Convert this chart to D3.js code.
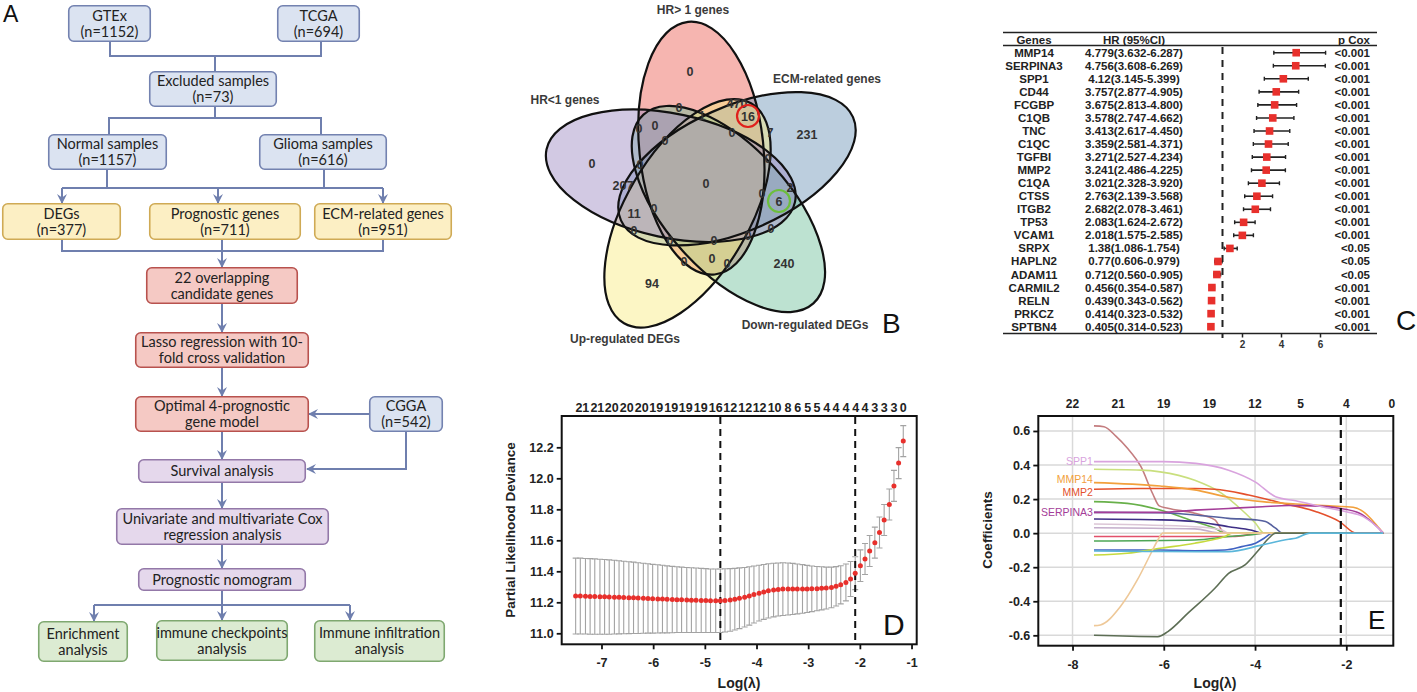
<!DOCTYPE html>
<html>
<head>
<meta charset="utf-8">
<script src="https://cdn.jsdelivr.net/npm/d3@7"></script>
<style>
  body { margin: 0; background: #fff; }
  svg { display: block; }
</style>
</head>
<body>
<svg id="fig" width="1417" height="692"></svg>
<script>
// ---------- A: flow chart ----------
const flowIds = ['gtex', 'tcga', 'excl', 'normal', 'glioma', 'degs', 'prog', 'ecm', 'cand',
  'lasso', 'optimal', 'cgga', 'surv', 'cox', 'nomo', 'enrich', 'immck', 'immin'];
const flowLabels = [
  ['GTEx', '(n=1152)'], ['TCGA', '(n=694)'], ['Excluded samples', '(n=73)'],
  ['Normal samples', '(n=1157)'], ['Glioma samples', '(n=616)'],
  ['DEGs', '(n=377)'], ['Prognostic genes', '(n=711)'], ['ECM-related genes', '(n=951)'],
  ['22 overlapping', 'candidate genes'], ['Lasso regression with 10-', 'fold cross validation'],
  ['Optimal 4-prognostic', 'gene model'], ['CGGA', '(n=542)'], ['Survival analysis'],
  ['Univariate and multivariate Cox', 'regression analysis'], ['Prognostic nomogram'],
  ['Enrichment', 'analysis'], ['immune checkpoints', 'analysis'], ['Immune infiltration', 'analysis']
];
const flowStage = ['data', 'data', 'data', 'data', 'data', 'set', 'set', 'set', 'model',
  'model', 'model', 'data', 'valid', 'valid', 'valid', 'down', 'down', 'down'];

// ---------- B: venn ----------
const vennSets = ['HR> 1 genes', 'ECM-related genes', 'Down-regulated DEGs', 'Up-regulated DEGs', 'HR<1 genes'];
const vennCounts = [0, 470, 16, 0, 1, 231, 7, 0, 0, 0, 0, 0, 0, 0, 207, 0, 2, 0, 6, 11, 0, 0, 0, 0, 0, 0, 0, 0, 0, 240, 94];
const vennSpots = [[-15, -112], [32, -80], [43, -67], [-26, -76], [-3, -68], [102, -49], [65, -51], [27, -51],
  [-66, -55], [-50, -58], [-40, -43], [-113, -20], [-65, -19], [63, -25], [-82, 2], [1, 0], [85, 4], [57, 10],
  [74, 18], [-71, 30], [-51, 25], [66, 45], [-71, 47], [-35, 57], [9, 57], [43, 52], [-21, 78], [7, 75],
  [22, 80], [79, 80], [-53, 100]];
const vennLabelSpots = [[-12, -173], [122, -104], [100, 142], [-80, 156], [-140, -83]];
const vennHighlight = [2, 18];

// ---------- C: forest ----------
const genes = ['MMP14', 'SERPINA3', 'SPP1', 'CD44', 'FCGBP', 'C1QB', 'TNC', 'C1QC', 'TGFBI', 'MMP2', 'C1QA',
  'CTSS', 'ITGB2', 'TP53', 'VCAM1', 'SRPX', 'HAPLN2', 'ADAM11', 'CARMIL2', 'RELN', 'PRKCZ', 'SPTBN4'];
const hr = [4.779, 4.756, 4.12, 3.757, 3.675, 3.578, 3.413, 3.359, 3.271, 3.241, 3.021, 2.763, 2.682, 2.083,
  2.018, 1.38, 0.77, 0.712, 0.456, 0.439, 0.414, 0.405];
const hrLow = [3.632, 3.608, 3.145, 2.877, 2.813, 2.747, 2.617, 2.581, 2.527, 2.486, 2.328, 2.139, 2.078, 1.624,
  1.575, 1.086, 0.606, 0.560, 0.354, 0.343, 0.323, 0.314];
const hrHigh = [6.287, 6.269, 5.399, 4.905, 4.800, 4.662, 4.450, 4.371, 4.234, 4.225, 3.920, 3.568, 3.461, 2.672,
  2.585, 1.754, 0.979, 0.905, 0.587, 0.562, 0.532, 0.523];
const pCox = ['<0.001', '<0.001', '<0.001', '<0.001', '<0.001', '<0.001', '<0.001', '<0.001', '<0.001', '<0.001',
  '<0.001', '<0.001', '<0.001', '<0.001', '<0.001', '<0.05', '<0.05', '<0.05', '<0.001', '<0.001', '<0.001', '<0.001'];
const forestTicks = [2, 4, 6];

// ---------- D: cross validation ----------
const logLambda = [-7.50, -7.41, -7.31, -7.22, -7.13, -7.03, -6.94, -6.85, -6.75, -6.66,
  -6.57, -6.47, -6.38, -6.29, -6.19, -6.10, -6.01, -5.91, -5.82, -5.73,
  -5.63, -5.54, -5.45, -5.35, -5.26, -5.17, -5.07, -4.98, -4.89, -4.79,
  -4.70, -4.61, -4.51, -4.42, -4.33, -4.23, -4.14, -4.05, -3.95, -3.86,
  -3.77, -3.67, -3.58, -3.49, -3.39, -3.30, -3.21, -3.11, -3.02, -2.93,
  -2.83, -2.74, -2.65, -2.55, -2.46, -2.37, -2.27, -2.18, -2.09, -1.99,
  -1.90, -1.81, -1.71, -1.62, -1.53, -1.43, -1.34, -1.25, -1.16];
const cvMean = [11.240, 11.240, 11.239, 11.238, 11.237, 11.236, 11.235, 11.234, 11.233, 11.232,
  11.231, 11.230, 11.229, 11.227, 11.226, 11.225, 11.223, 11.222, 11.221, 11.219,
  11.218, 11.217, 11.216, 11.215, 11.214, 11.213, 11.212, 11.211, 11.210, 11.210,
  11.210, 11.212, 11.215, 11.220, 11.226, 11.233, 11.241, 11.250, 11.259, 11.267,
  11.274, 11.279, 11.283, 11.285, 11.286, 11.286, 11.286, 11.286, 11.286, 11.287,
  11.288, 11.290, 11.292, 11.296, 11.303, 11.313, 11.328, 11.350, 11.388, 11.436,
  11.479, 11.531, 11.585, 11.650, 11.731, 11.831, 11.951, 12.098, 12.240];
const cvSd = [.245, .245, .244, .244, .243, .242, .241, .240, .238, .236,
  .234, .232, .230, .228, .226, .224, .222, .220, .218, .216,
  .214, .212, .211, .210, .209, .208, .207, .206, .205, .205,
  .205, .204, .202, .199, .196, .192, .188, .184, .180, .177,
  .175, .173, .171, .170, .168, .165, .161, .157, .152, .147,
  .143, .139, .135, .131, .127, .123, .119, .113, .106, .102,
  .100, .100, .100, .100, .100, .100, .100, .100, .100];
const cvTopAt = [-7.37, -7.08, -6.80, -6.51, -6.22, -5.94, -5.65, -5.37, -5.08, -4.79, -4.51, -4.22, -3.94, -3.65,
  -3.39, -3.20, -3.01, -2.83, -2.64, -2.46, -2.27, -2.08, -1.90, -1.71, -1.53, -1.34, -1.16];
const cvTopLabels = [21, 21, 20, 20, 20, 19, 19, 19, 19, 16, 12, 12, 12, 10,
  8, 6, 5, 5, 4, 4, 4, 4, 4, 3, 3, 3, 0];
const cvLambdaMin = -4.70;
const cvLambda1se = -2.09;

// ---------- E: coefficient paths ----------
const pathNames = ['c1', 'c3', 'c7', 'c8', 'c9', 'c10', 'c11', 'c12', 'c14', 'c15', 'c17', 'c18', 'c19',
  'MMP2', 'MMP14', 'SERPINA3', 'SPP1', 'c16'];
const pathLabelled = ['SPP1', 'MMP14', 'MMP2', 'SERPINA3'];
const pathValues = [
  [[-7.53, 0.63], [-7.31, 0.625], [-7.05, 0.57], [-6.80, 0.50], [-6.50, 0.39], [-6.24, 0.23], [-6.10, 0.16], [-5.91, 0.146], [-5.32, 0.117], [-4.88, 0.078], [-4.66, 0], [-1.19, 0]],
  [[-7.53, 0.375], [-6.50, 0.37], [-6.08, 0.36], [-5.32, 0.31], [-4.73, 0.234], [-4.29, 0.136], [-3.99, 0.058], [-3.80, 0], [-1.19, 0]],
  [[-7.53, 0.185], [-6.80, 0.175], [-6.08, 0.136], [-5.32, 0.068], [-4.88, 0.029], [-4.66, 0], [-1.19, 0]],
  [[-7.53, 0.083], [-6.08, 0.078], [-5.32, 0.068], [-4.58, 0.038], [-4.07, 0.017], [-3.84, 0], [-1.19, 0]],
  [[-7.53, 0.122], [-6.08, 0.12], [-5.32, 0.107], [-4.58, 0.087], [-3.99, 0.078], [-3.77, 0.068], [-3.55, 0.029], [-3.40, 0], [-1.19, 0]],
  [[-7.53, 0.054], [-5.32, 0.038], [-4.73, 0.019], [-4.58, 0], [-1.19, 0]],
  [[-7.53, 0.032], [-5.32, 0.025], [-4.73, 0], [-1.19, 0]],
  [[-7.53, -0.02], [-4.50, -0.02], [-3.84, 0], [-1.19, 0]],
  [[-7.53, -0.046], [-5.32, -0.04], [-4.58, -0.02], [-3.99, -0.006], [-3.84, 0], [-1.19, 0]],
  [[-7.53, -0.099], [-6.08, -0.099], [-5.32, -0.103], [-4.66, -0.099], [-4.29, -0.079], [-3.99, -0.059], [-3.80, -0.03], [-3.62, 0], [-1.19, 0]],
  [[-7.53, -0.128], [-6.80, -0.118], [-6.08, -0.089], [-5.32, -0.059], [-4.88, -0.036], [-4.66, -0.02], [-4.51, 0], [-1.19, 0]],
  [[-7.53, -0.543], [-7.39, -0.539], [-6.95, -0.431], [-6.58, -0.275], [-6.28, -0.118], [-6.13, -0.04], [-6.02, 0], [-1.19, 0]],
  [[-7.53, -0.60], [-6.13, -0.608], [-5.91, -0.578], [-5.47, -0.47], [-4.88, -0.324], [-4.58, -0.236], [-4.22, -0.187], [-3.92, -0.099], [-3.70, -0.03], [-3.55, 0], [-1.19, 0]],
  [[-7.53, 0.258], [-6.50, 0.262], [-5.32, 0.262], [-4.88, 0.258], [-4.14, 0.224], [-3.40, 0.176], [-2.66, 0.126], [-2.15, 0.068], [-1.78, 0], [-1.19, 0]],
  [[-7.53, 0.297], [-6.08, 0.277], [-5.32, 0.254], [-4.58, 0.211], [-3.84, 0.185], [-3.11, 0.171], [-2.37, 0.16], [-1.85, 0.152], [-1.63, 0.126], [-1.33, 0.045], [-1.19, 0]],
  [[-7.53, 0.122], [-6.08, 0.122], [-5.32, 0.135], [-4.58, 0.145], [-3.84, 0.155], [-3.26, 0.162], [-2.74, 0.16], [-2.15, 0.146], [-1.71, 0.117], [-1.41, 0.058], [-1.19, 0]],
  [[-7.53, 0.42], [-6.50, 0.42], [-6.00, 0.42], [-5.30, 0.41], [-4.58, 0.37], [-3.99, 0.30], [-3.55, 0.214], [-3.11, 0.19], [-2.37, 0.146], [-2.00, 0.126], [-1.63, 0.097], [-1.33, 0.038], [-1.19, 0]],
  [[-7.53, -0.105], [-6.08, -0.108], [-4.58, -0.109], [-3.84, -0.069], [-3.26, -0.036], [-3.11, -0.03], [-2.80, 0], [-1.19, 0]]
];
const pathTopAt = [-8, -7, -6, -5, -4, -3, -2, -1];
const pathTopLabels = [22, 21, 19, 19, 12, 5, 4, 0];
const pathCut = -2.12;

// ---------- styles ----------
const sans = 'Arial, "Liberation Sans", sans-serif';
const flowFont = 'Lato, "Open Sans", sans-serif';
const lineCol = '#6f7fae';
const stageStyle = {
  data: { fill: '#dbe3f1', stroke: '#7382b0' },
  set: { fill: '#fcefc4', stroke: '#cfaa55' },
  model: { fill: '#f5c9c4', stroke: '#b8524e' },
  valid: { fill: '#e5d8ec', stroke: '#9378a8' },
  down: { fill: '#dcebd2', stroke: '#7fa870' }
};
const vennFill = ['#eb5a50', '#6a93b6', '#6cbf9a', '#f8ea7e', '#9b88c2'];
const pathColor = {
  c1: '#c47d7f', c3: '#c9df7e', c7: '#68b04a', c8: '#3e2f86', c9: '#55609e', c10: '#dcc6d6', c11: '#c4aecb',
  c12: '#e2506a', c14: '#4ea656', c15: '#4062c2', c17: '#c6da3e', c18: '#eec898', c19: '#5d6e55',
  MMP2: '#e4502c', MMP14: '#f2a03c', SERPINA3: '#a43d98', SPP1: '#d9a3de', c16: '#5ab6da'
};
// small vertical nudges so the stacked gene labels in E stay readable
const labelNudge = { SPP1: 0, MMP14: -3, MMP2: 3, SERPINA3: 0 };

const svg = d3.select('#fig');
const defs = svg.append('defs');
defs.append('marker').attr('id', 'arr')
  .attr('viewBox', '0 0 10 10').attr('refX', 9).attr('refY', 5)
  .attr('markerWidth', 10).attr('markerHeight', 10)
  .attr('markerUnits', 'userSpaceOnUse').attr('orient', 'auto')
  .append('path').attr('d', 'M0,0 L10,5 L0,10 L3.5,5 Z').attr('fill', lineCol);

const letter = (t, x, y, size) => svg.append('text').text(t).attr('x', x).attr('y', y)
  .attr('font-family', sans).attr('font-size', size).attr('fill', '#111');

// ======================= A =======================
const flowBox = {
  gtex: [68, 5, 151, 42], tcga: [277, 5, 360, 42], excl: [149, 71, 277, 107],
  normal: [48, 134, 167, 170], glioma: [259, 134, 387, 170],
  degs: [2, 203, 121, 240], prog: [149, 203, 301, 240], ecm: [314, 203, 452, 240],
  cand: [146, 267, 298, 304], lasso: [135, 332, 309, 368], optimal: [135, 396, 309, 432],
  cgga: [369, 396, 443, 432], surv: [138, 459, 306, 483], cox: [116, 508, 329, 545],
  nomo: [138, 568, 306, 591], enrich: [38, 621, 128, 662], immck: [156, 620, 288, 661],
  immin: [314, 620, 445, 662]
};
const flowLinks = [
  { p: [[110, 42], [110, 56], [321, 56], [321, 42]] }, { p: [[215, 56], [215, 71]] },
  { p: [[215, 107], [215, 118]] }, { p: [[109, 134], [109, 118], [321, 118], [321, 134]] },
  { p: [[107, 170], [107, 188]] }, { p: [[324, 170], [324, 188]] }, { p: [[62, 188], [383, 188]] },
  { p: [[62, 188], [62, 203]], a: 1 }, { p: [[218, 188], [218, 203]], a: 1 }, { p: [[383, 188], [383, 203]], a: 1 },
  { p: [[62, 240], [62, 251], [383, 251], [383, 240]] }, { p: [[222, 240], [222, 267]], a: 1 },
  { p: [[222, 304], [222, 332]], a: 1 }, { p: [[222, 368], [222, 396]], a: 1 },
  { p: [[369, 414], [309, 414]], a: 1 }, { p: [[406, 432], [406, 469], [307, 469]], a: 1 },
  { p: [[222, 432], [222, 459]], a: 1 }, { p: [[222, 483], [222, 508]], a: 1 },
  { p: [[222, 545], [222, 568]], a: 1 }, { p: [[222, 591], [222, 620]], a: 1 },
  { p: [[94, 605], [350, 605]] }, { p: [[94, 605], [94, 621]], a: 1 }, { p: [[350, 605], [350, 620]], a: 1 }
];
const gA = svg.append('g');
gA.selectAll('path.link').data(flowLinks).join('path').attr('class', 'link')
  .attr('d', (d) => d3.line()(d.p))
  .attr('fill', 'none').attr('stroke', lineCol).attr('stroke-width', 2)
  .attr('marker-end', (d) => (d.a ? 'url(#arr)' : null));

const nodes = gA.selectAll('g.node').data(flowIds).join('g').attr('class', 'node');
nodes.append('rect')
  .attr('x', (d) => flowBox[d][0] + 0.75).attr('y', (d) => flowBox[d][1] + 0.75)
  .attr('width', (d) => flowBox[d][2] - flowBox[d][0] - 1.5)
  .attr('height', (d) => flowBox[d][3] - flowBox[d][1] - 1.5)
  .attr('rx', 5)
  .attr('fill', (d, i) => stageStyle[flowStage[i]].fill)
  .attr('stroke', (d, i) => stageStyle[flowStage[i]].stroke)
  .attr('stroke-width', 1.6);
nodes.each(function (d, i) {
  const b = flowBox[d];
  const lines = flowLabels[i];
  const cx = (b[0] + b[2]) / 2;
  const cy = (b[1] + b[3]) / 2;
  d3.select(this).selectAll('text').data(lines).join('text')
    .attr('x', cx)
    .attr('y', (_, k) => cy + (k - (lines.length - 1) / 2) * 16 + 5)
    .attr('text-anchor', 'middle')
    .attr('font-family', flowFont).attr('font-size', 14.5).attr('fill', '#222')
    .text((t) => t);
});
letter('A', 3, 22, 23);

// ======================= B =======================
const vx = d3.scaleLinear().domain([-200, 200]).range([505, 905]);
const vy = d3.scaleLinear().domain([-200, 200]).range([-17, 383]);
const vennAngle = (i) => -96 + 72 * i;
const vennShift = 35;
const gB = svg.append('g');
const ell = (sel) => sel
  .attr('cx', (_, i) => vx(vennShift * Math.cos(vennAngle(i) * Math.PI / 180)))
  .attr('cy', (_, i) => vy(vennShift * Math.sin(vennAngle(i) * Math.PI / 180)))
  .attr('rx', vx(127) - vx(0)).attr('ry', vy(62) - vy(0))
  .attr('transform', (_, i) => {
    const cx = vx(vennShift * Math.cos(vennAngle(i) * Math.PI / 180));
    const cy = vy(vennShift * Math.sin(vennAngle(i) * Math.PI / 180));
    return `rotate(${vennAngle(i)},${cx},${cy})`;
  });
gB.selectAll('ellipse.f').data(vennSets).join('ellipse').attr('class', 'f').call(ell)
  .attr('fill', (_, i) => vennFill[i]).attr('fill-opacity', 0.45);
gB.selectAll('ellipse.s').data(vennSets).join('ellipse').attr('class', 's').call(ell)
  .attr('fill', 'none').attr('stroke', '#111').attr('stroke-width', 2.2);
gB.selectAll('text.cnt').data(vennCounts).join('text').attr('class', 'cnt')
  .attr('x', (_, i) => vx(vennSpots[i][0])).attr('y', (_, i) => vy(vennSpots[i][1]) + 4.5)
  .attr('text-anchor', 'middle').attr('font-family', sans).attr('font-weight', 'bold')
  .attr('font-size', 12.5).attr('fill', '#333').text((d) => d);
gB.selectAll('circle.hl').data(vennHighlight).join('circle').attr('class', 'hl')
  .attr('cx', (d) => vx(vennSpots[d][0])).attr('cy', (d) => vy(vennSpots[d][1]))
  .attr('r', 11).attr('fill', 'none').attr('stroke-width', 2.2)
  .attr('stroke', (_, i) => (i === 0 ? '#e0201c' : '#6cbf3c'));
gB.selectAll('text.set').data(vennSets).join('text').attr('class', 'set')
  .attr('x', (_, i) => vx(vennLabelSpots[i][0])).attr('y', (_, i) => vy(vennLabelSpots[i][1]) + 4)
  .attr('text-anchor', 'middle').attr('font-family', sans).attr('font-weight', 'bold')
  .attr('font-size', 12).attr('fill', '#3a3a3a').text((d) => d);
letter('B', 882, 333, 28);

// ======================= C =======================
const xC = d3.scaleLinear().domain([0, 7]).range([1203, 1339.5]);
const yC = d3.scalePoint().domain(genes).range([52.7, 326.7]);
const gC = svg.append('g').attr('font-family', sans).attr('font-weight', 'bold').attr('fill', '#222');
gC.append('line').attr('x1', 1003).attr('x2', 1377).attr('y1', 32.5).attr('y2', 32.5).attr('stroke', '#222').attr('stroke-width', 1.6);
gC.append('line').attr('x1', 1003).attr('x2', 1377).attr('y1', 45.5).attr('y2', 45.5).attr('stroke', '#222').attr('stroke-width', 1.4);
gC.append('line').attr('x1', 1003).attr('x2', 1377).attr('y1', 333.5).attr('y2', 333.5).attr('stroke', '#222').attr('stroke-width', 1.6);
const hdr = [['Genes', 1034, 'middle'], ['HR (95%CI)', 1134, 'middle'], ['p Cox', 1370, 'end']];
gC.selectAll('text.hdr').data(hdr).join('text').attr('class', 'hdr')
  .attr('x', (d) => d[1]).attr('y', 43.5).attr('text-anchor', (d) => d[2])
  .attr('font-size', 11.5).text((d) => d[0]);
gC.append('line').attr('x1', xC(1)).attr('x2', xC(1)).attr('y1', 47).attr('y2', 338)
  .attr('stroke', '#222').attr('stroke-width', 2).attr('stroke-dasharray', '7,6');
const rows = gC.selectAll('g.row').data(genes).join('g').attr('class', 'row')
  .attr('transform', (d) => `translate(0,${yC(d)})`);
rows.append('text').attr('x', 1034).attr('y', 4).attr('text-anchor', 'middle').attr('font-size', 11.5).text((d) => d);
rows.append('text').attr('x', 1134).attr('y', 4).attr('text-anchor', 'middle').attr('font-size', 11.5)
  .text((d, i) => `${hr[i]}(${hrLow[i].toFixed(3)}-${hrHigh[i].toFixed(3)})`);
rows.append('text').attr('x', 1370).attr('y', 4).attr('text-anchor', 'end').attr('font-size', 11.5).text((d, i) => pCox[i]);
rows.append('line').attr('x1', (d, i) => xC(hrLow[i])).attr('x2', (d, i) => xC(hrHigh[i]))
  .attr('stroke', '#222').attr('stroke-width', 1.6);
rows.append('path').attr('d', (d, i) => `M${xC(hrLow[i])},-2V2M${xC(hrHigh[i])},-2V2`)
  .attr('stroke', '#222').attr('stroke-width', 1.4);
rows.append('rect').attr('x', (d, i) => xC(hr[i]) - 3.8).attr('y', -3.8).attr('width', 7.6).attr('height', 7.6)
  .attr('fill', '#e8302c');
const axC = gC.append('g').attr('transform', 'translate(0,333.5)')
  .call(d3.axisBottom(xC).tickValues(forestTicks).tickSize(4).tickPadding(3).tickFormat((d) => String(d)));
axC.select('.domain').remove();
axC.selectAll('line').attr('stroke', '#222').attr('stroke-width', 1.5);
axC.selectAll('text').attr('font-size', 10).attr('font-weight', 'bold').attr('fill', '#333').attr('font-family', sans);
letter('C', 1396, 330, 28);

// ======================= D =======================
const xD = d3.scaleLinear().domain([-7.77, -0.90]).range([561.7, 916.7]);
const yD = d3.scaleLinear().domain([10.929, 12.402]).range([644.3, 416]);
const gD = svg.append('g');
const bars = gD.selectAll('g.eb').data(logLambda).join('g').attr('class', 'eb');
bars.append('path')
  .attr('d', (l, i) => {
    const x = xD(l);
    const y1 = yD(cvMean[i] + cvSd[i]);
    const y0 = yD(cvMean[i] - cvSd[i]);
    return `M${x},${y1}V${y0}M${x - 3},${y1}H${x + 3}M${x - 3},${y0}H${x + 3}`;
  })
  .attr('stroke', '#a3a3a3').attr('stroke-width', 1.1).attr('fill', 'none');
gD.selectAll('line.cut').data([cvLambdaMin, cvLambda1se]).join('line').attr('class', 'cut')
  .attr('x1', (d) => xD(d)).attr('x2', (d) => xD(d)).attr('y1', 417).attr('y2', 643)
  .attr('stroke', '#111').attr('stroke-width', 2).attr('stroke-dasharray', '7,5');
gD.selectAll('circle.pt').data(logLambda).join('circle').attr('class', 'pt')
  .attr('cx', (l) => xD(l)).attr('cy', (l, i) => yD(cvMean[i])).attr('r', 2.5).attr('fill', '#e8302c');
gD.append('rect').attr('x', 561.7).attr('y', 416).attr('width', 355).attr('height', 228.3)
  .attr('fill', 'none').attr('stroke', '#111').attr('stroke-width', 2);
const axDx = gD.append('g').attr('transform', 'translate(0,644.3)')
  .call(d3.axisBottom(xD).tickValues([-7, -6, -5, -4, -3, -2, -1]).tickSize(5).tickPadding(9).tickFormat((d) => String(d)));
const axDy = gD.append('g').attr('transform', 'translate(561.7,0)')
  .call(d3.axisLeft(yD).tickValues([11.0, 11.2, 11.4, 11.6, 11.8, 12.0, 12.2]).tickSize(5).tickPadding(3).tickFormat((d) => d.toFixed(1)));
[axDx, axDy].forEach((a) => {
  a.select('.domain').remove();
  a.selectAll('line').attr('stroke', '#111').attr('stroke-width', 1.8);
  a.selectAll('text').attr('font-family', sans).attr('font-weight', 'bold').attr('font-size', 12.5).attr('fill', '#222');
});
gD.selectAll('text.top').data(cvTopLabels).join('text').attr('class', 'top')
  .attr('x', (_, i) => xD(cvTopAt[i])).attr('y', 412).attr('text-anchor', 'middle')
  .attr('font-family', sans).attr('font-weight', 'bold').attr('font-size', 12.5).attr('fill', '#222')
  .text((d) => d);
gD.append('text').attr('x', 739).attr('y', 688).attr('text-anchor', 'middle')
  .attr('font-family', sans).attr('font-weight', 'bold').attr('font-size', 14).attr('fill', '#222').text('Log(λ)');
gD.append('text').attr('transform', 'translate(515,530) rotate(-90)').attr('text-anchor', 'middle')
  .attr('font-family', sans).attr('font-weight', 'bold').attr('font-size', 13.5).attr('fill', '#222')
  .text('Partial Likelihood Deviance');
letter('D', 883, 635, 30);

// ======================= E =======================
const xE = d3.scaleLinear().domain([-8.75, -0.97]).range([1038.3, 1393.3]);
const yE = d3.scaleLinear().domain([-0.661, 0.688]).range([645.7, 416]);
const gE = svg.append('g');
const yTicksE = [-0.6, -0.4, -0.2, 0, 0.2, 0.4, 0.6];
const xTicksE = [-8, -6, -4, -2];
gE.selectAll('line.gx').data(xTicksE).join('line').attr('class', 'gx')
  .attr('x1', (d) => xE(d)).attr('x2', (d) => xE(d)).attr('y1', 416).attr('y2', 645.7)
  .attr('stroke', '#d9d9d9').attr('stroke-width', 1.5);
gE.selectAll('line.gy').data(yTicksE).join('line').attr('class', 'gy')
  .attr('y1', (d) => yE(d)).attr('y2', (d) => yE(d)).attr('x1', 1038.3).attr('x2', 1393.3)
  .attr('stroke', '#d9d9d9').attr('stroke-width', 1.5);
const pathLine = d3.line().x((d) => xE(d[0])).y((d) => yE(d[1])).curve(d3.curveMonotoneX);
gE.selectAll('path.coef').data(pathNames).join('path').attr('class', 'coef')
  .attr('d', (d, i) => pathLine(pathValues[i]))
  .attr('fill', 'none').attr('stroke', (d) => pathColor[d]).attr('stroke-width', 1.6);
gE.selectAll('text.lab').data(pathLabelled).join('text').attr('class', 'lab')
  .attr('x', (d) => xE(pathValues[pathNames.indexOf(d)][0][0]) - 1)
  .attr('y', (d) => yE(pathValues[pathNames.indexOf(d)][0][1]) + 3.5 + labelNudge[d])
  .attr('text-anchor', 'end').attr('font-family', sans).attr('font-size', 10.5)
  .attr('fill', (d) => pathColor[d]).text((d) => d);
gE.append('line').attr('x1', xE(pathCut)).attr('x2', xE(pathCut)).attr('y1', 417).attr('y2', 645)
  .attr('stroke', '#111').attr('stroke-width', 2.2).attr('stroke-dasharray', '8,5');
gE.append('rect').attr('x', 1038.3).attr('y', 416).attr('width', 355).attr('height', 229.7)
  .attr('fill', 'none').attr('stroke', '#111').attr('stroke-width', 2);
const axEx = gE.append('g').attr('transform', 'translate(0,645.7)')
  .call(d3.axisBottom(xE).tickValues(xTicksE).tickSize(5).tickPadding(9).tickFormat((d) => String(d)));
const axEy = gE.append('g').attr('transform', 'translate(1038.3,0)')
  .call(d3.axisLeft(yE).tickValues(yTicksE).tickSize(5).tickPadding(3).tickFormat((d) => d.toFixed(1)));
[axEx, axEy].forEach((a) => {
  a.select('.domain').remove();
  a.selectAll('line').attr('stroke', '#111').attr('stroke-width', 1.8);
  a.selectAll('text').attr('font-family', sans).attr('font-weight', 'bold').attr('font-size', 12.5).attr('fill', '#222');
});
gE.selectAll('text.top').data(pathTopLabels).join('text').attr('class', 'top')
  .attr('x', (_, i) => xE(pathTopAt[i])).attr('y', 408).attr('text-anchor', 'middle')
  .attr('font-family', sans).attr('font-weight', 'bold').attr('font-size', 12).attr('fill', '#222')
  .text((d) => d);
gE.append('text').attr('x', 1215).attr('y', 688).attr('text-anchor', 'middle')
  .attr('font-family', sans).attr('font-weight', 'bold').attr('font-size', 14).attr('fill', '#222').text('Log(λ)');
gE.append('text').attr('transform', 'translate(992,530) rotate(-90)').attr('text-anchor', 'middle')
  .attr('font-family', sans).attr('font-weight', 'bold').attr('font-size', 13.5).attr('fill', '#222')
  .text('Coefficients');
letter('E', 1368, 629, 26);
</script>
</body>
</html>
